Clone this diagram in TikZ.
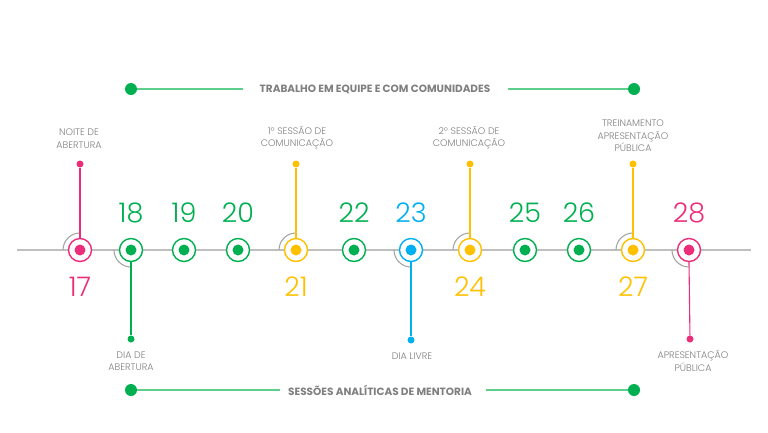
\documentclass[tikz,border=0pt]{standalone}
\usepackage{fontspec}
\setmainfont{Poppins}
\newfontfamily\thinfont{Poppins Light}
\definecolor{cpink}{HTML}{EC2D7A}
\definecolor{cgreen}{HTML}{00B050}
\definecolor{cyellow}{HTML}{FFC000}
\definecolor{cblue}{HTML}{00B0F0}
\definecolor{cline}{HTML}{5DCF8B}
\definecolor{caxis}{HTML}{BFBFBF}
\definecolor{carc}{HTML}{A6A6A6}
\definecolor{ctext}{HTML}{7F7F7F}
\tikzset{
  ring/.style={circle,draw=#1,line width=1.4pt,fill=white,minimum size=23pt,inner sep=0pt},
  core/.style={circle,fill=#1,minimum size=11pt,inner sep=0pt},
  pin/.style={circle,fill=#1,minimum size=7pt,inner sep=0pt},
  pinline/.style={draw=#1,line width=1.1pt},
  num/.style={text=#1,font=\thinfont\fontsize{27}{27}\selectfont,inner sep=0pt},
  lbl/.style={text=ctext,font=\thinfont\fontsize{9.5}{12.5}\selectfont,align=center,inner sep=0pt},
  gap/.style={draw=carc,line width=1.1pt},
  bardot/.style={circle,fill=cgreen,minimum size=12pt,inner sep=0pt},
  barline/.style={draw=cline,line width=1.3pt},
  bartxt/.style={text=ctext,font=\bfseries\fontsize{10.5}{12}\selectfont,inner sep=0pt}
}
\begin{document}
\begin{tikzpicture}[x=1pt,y=-1pt]
\useasboundingbox (0,0) rectangle (768,432);
% axis
\coordinate (axL) at (17,250);
\coordinate (axR) at (751,250);
\draw[draw=caxis,line width=1.2pt] (axL) -- (axR);
% gray arcs (top-left)
\foreach \x in {80,296,470,633} {\draw[gap] (\x-17,250) arc[start angle=180,end angle=270,radius=17];}
% gray arcs (bottom-left)
\foreach \x in {131,411,689} {\draw[gap] (\x-17,250) arc[start angle=180,end angle=90,radius=17];}
% days
\node[ring=cpink] (c17) at (80,250) {};   \node[core=cpink] (d17) at (80,250) {};
\node[ring=cgreen] (c18) at (131,250) {}; \node[core=cgreen] (d18) at (131,250) {};
\node[ring=cgreen] (c19) at (184,250) {}; \node[core=cgreen] (d19) at (184,250) {};
\node[ring=cgreen] (c20) at (238,250) {}; \node[core=cgreen] (d20) at (238,250) {};
\node[ring=cyellow] (c21) at (296,250) {}; \node[core=cyellow] (d21) at (296,250) {};
\node[ring=cgreen] (c22) at (354,250) {}; \node[core=cgreen] (d22) at (354,250) {};
\node[ring=cblue] (c23) at (411,250) {};  \node[core=cblue] (d23) at (411,250) {};
\node[ring=cyellow] (c24) at (470,250) {}; \node[core=cyellow] (d24) at (470,250) {};
\node[ring=cgreen] (c25) at (525,250) {}; \node[core=cgreen] (d25) at (525,250) {};
\node[ring=cgreen] (c26) at (579,250) {}; \node[core=cgreen] (d26) at (579,250) {};
\node[ring=cyellow] (c27) at (633,250) {}; \node[core=cyellow] (d27) at (633,250) {};
\node[ring=cpink] (c28) at (689,250) {};  \node[core=cpink] (d28) at (689,250) {};
% numbers
\node[num=cpink] (n17) at (80,287) {17};
\node[num=cgreen] (n18) at (131,213) {18};
\node[num=cgreen] (n19) at (184,213) {19};
\node[num=cgreen] (n20) at (238,213) {20};
\node[num=cyellow] (n21) at (296,287) {21};
\node[num=cgreen] (n22) at (354,213) {22};
\node[num=cblue] (n23) at (411,213) {23};
\node[num=cyellow] (n24) at (470,287) {24};
\node[num=cgreen] (n25) at (525,213) {25};
\node[num=cgreen] (n26) at (579,213) {26};
\node[num=cyellow] (n27) at (633,287) {27};
\node[num=cpink] (n28) at (689,213) {28};
% pins
\node[pin=cpink] (p17) at (80,164) {};
\node[pin=cgreen] (p18) at (131,339) {};
\node[pin=cyellow] (p21) at (296,164) {};
\node[pin=cblue] (p23) at (411,340) {};
\node[pin=cyellow] (p24) at (470,164) {};
\node[pin=cyellow] (p27) at (633,164) {};
\node[pin=cpink] (p28) at (690,339) {};
\draw[pinline=cpink] (c17.north) -- (p17);
\draw[pinline=cgreen] (c18.south) -- (p18);
\draw[pinline=cyellow] (c21.north) -- (p21);
\draw[pinline=cblue] (c23.south) -- (p23);
\draw[pinline=cyellow] (c24.north) -- (p24);
\draw[pinline=cyellow] (c27.north) -- (p27);
\draw[pinline=cpink] (c28.south) -- (p28);
% labels
\node[lbl] (l17) at (79,138.5) {NOITE DE\\ABERTURA};
\node[lbl] (l18) at (131,361) {DIA DE\\ABERTURA};
\node[lbl] (l21) at (297,137.5) {1º SESSÃO DE\\COMUNICAÇÃO};
\node[lbl] (l23) at (412,356) {DIA LIVRE};
\node[lbl] (l24) at (469,137.5) {2º SESSÃO DE\\COMUNICAÇÃO};
\node[lbl] (l27) at (633,136) {TREINAMENTO\\APRESENTAÇÃO\\PÚBLICA};
\node[lbl] (l28) at (693,361) {APRESENTAÇÃO\\PÚBLICA};
% top bar
\node[bardot] (tL) at (131,89) {};
\node[bardot] (tR) at (634,89) {};
\node[bartxt] (tT) at (375,89) {TRABALHO EM EQUIPE E COM COMUNIDADES};
\coordinate (tA) at (243,89);
\coordinate (tB) at (508,89);
\draw[barline] (tL) -- (tA);
\draw[barline] (tB) -- (tR);
% bottom bar
\node[bardot] (bL) at (131,390) {};
\node[bardot] (bR) at (634,390) {};
\node[bartxt] (bT) at (380,390) {SESSÕES ANALÍTICAS DE MENTORIA};
\coordinate (bA) at (280,390);
\coordinate (bB) at (486,390);
\draw[barline] (bL) -- (bA);
\draw[barline] (bB) -- (bR);
\end{tikzpicture}
\end{document}
